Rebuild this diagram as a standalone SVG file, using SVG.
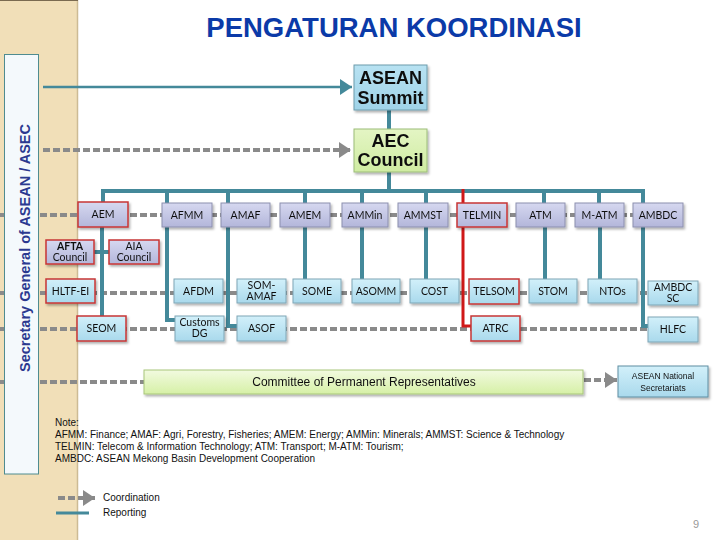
<svg xmlns="http://www.w3.org/2000/svg" width="720" height="540" viewBox="0 0 720 540">
<defs>
<style>
.lbl{font-family:Lato,"Liberation Sans",sans-serif;font-size:10.5px;fill:#111;text-anchor:middle}
.big{font-family:"Liberation Sans",Arial,sans-serif;font-size:18px;font-weight:bold;fill:#111;text-anchor:middle}
.note{font-family:"Liberation Sans",Arial,sans-serif;font-size:10px;fill:#111}
.rep{stroke:#44899a;stroke-width:4;fill:none}
.coord{stroke:#8a8a8a;stroke-width:4;stroke-dasharray:7 3;fill:none}
.b1{fill:url(#gLav);stroke:#8c8fae;stroke-width:1}
.b2{fill:url(#gBlue);stroke:#7fa6b6;stroke-width:1}
.red{stroke:#c83434;stroke-width:1.5}
</style>
<linearGradient id="gLav" x1="0" y1="0" x2="0" y2="1"><stop offset="0" stop-color="#d6d8f0"/><stop offset="1" stop-color="#b3b6da"/></linearGradient>
<linearGradient id="gBlue" x1="0" y1="0" x2="0" y2="1"><stop offset="0" stop-color="#d2f0fa"/><stop offset="1" stop-color="#a9d9ec"/></linearGradient>
<linearGradient id="gGreen" x1="0" y1="0" x2="0" y2="1"><stop offset="0" stop-color="#f2fae0"/><stop offset="1" stop-color="#d6f0a6"/></linearGradient>
<linearGradient id="gSum" x1="0" y1="0" x2="0" y2="1"><stop offset="0" stop-color="#b8e2f2"/><stop offset="1" stop-color="#9fd3e8"/></linearGradient>
<linearGradient id="gAec" x1="0" y1="0" x2="0" y2="1"><stop offset="0" stop-color="#e4f5c4"/><stop offset="1" stop-color="#cfeca2"/></linearGradient>
<filter id="sh" x="-20%" y="-20%" width="140%" height="150%"><feDropShadow dx="1.5" dy="2" stdDeviation="1.2" flood-color="#000" flood-opacity="0.3"/></filter>
<marker id="aRep" markerUnits="userSpaceOnUse" markerWidth="14" markerHeight="16" refX="12" refY="8" orient="auto"><polygon points="0,0 12,8 0,16" fill="#44899a"/></marker>
<marker id="aCoord" markerUnits="userSpaceOnUse" markerWidth="14" markerHeight="16" refX="12" refY="8" orient="auto"><polygon points="0,0 12,8 0,16" fill="#8a8a8a"/></marker>
</defs>

<rect width="720" height="540" fill="#ffffff"/>
<g id="side-band">
<rect x="0" y="0" width="78" height="540" fill="#f1dfb8"/>
<line x1="77.5" y1="0" x2="77.5" y2="540" stroke="#cdbb94" stroke-width="1.5"/>
<line x1="0" y1="0.5" x2="78" y2="0.5" stroke="#7a6a50" stroke-width="1"/>
</g>

<text x="394" y="37" font-family="'Liberation Sans',Arial,sans-serif" font-size="27.5" font-weight="bold" fill="#0b3aa8" text-anchor="middle">PENGATURAN KOORDINASI</text>

<g id="connectors">
<line class="coord" x1="0" y1="215" x2="633" y2="215"/>
<line class="coord" x1="0" y1="293" x2="648" y2="293"/>
<line class="coord" x1="0" y1="329" x2="648" y2="329"/>
<line class="coord" x1="0" y1="382" x2="144" y2="382"/>
<line class="coord" x1="43" y1="150" x2="351" y2="150" marker-end="url(#aCoord)"/>
<line class="coord" x1="584" y1="380" x2="617" y2="380" marker-end="url(#aCoord)"/>
<line x1="43" y1="87" x2="352" y2="87" stroke="#44899a" stroke-width="2.5" marker-end="url(#aRep)"/>
<line class="rep" x1="389" y1="110" x2="389" y2="129" stroke-width="5"/>
<line class="rep" x1="389" y1="172" x2="389" y2="191" stroke-width="5"/>
<line class="rep" x1="101" y1="191" x2="645" y2="191"/>
<path class="rep" d="M103 191V203 M167 191V203 M228 191V203 M305 191V203 M362 191V203 M426 191V203 M544 191V203 M599 191V203 M643 191V203"/>
<path class="rep" d="M102 227V316 M94 252H109"/>
<path class="rep" d="M167 227V320H175"/>
<path class="rep" d="M228 227V326H237"/>
<path class="rep" d="M305 227V279 M362 227V279 M426 227V279 M545 227V279 M600 227V279"/>
<path class="rep" d="M643 227V326H648"/>
<path d="M463 189V326H471" stroke="#d01818" stroke-width="3" fill="none"/>
</g>

<g id="sg-asec">
<rect x="4.5" y="54.5" width="34" height="419.5" fill="#f4f9fc" stroke="#4f8c90" stroke-width="1"/>
<text transform="translate(29.5,248) rotate(-90)" font-family="'Liberation Sans',Arial,sans-serif" font-size="15" font-weight="bold" fill="#2b3990" text-anchor="middle" textLength="248" lengthAdjust="spacingAndGlyphs">Secretary General of ASEAN / ASEC</text>
</g>

<g id="asean-summit" filter="url(#sh)"><rect x="354" y="65" width="73" height="45" fill="url(#gSum)" stroke="#6d9cac"/><text class="big" x="390.5" y="84">ASEAN</text><text class="big" x="390.5" y="104">Summit</text></g>
<g id="aec-council" filter="url(#sh)"><rect x="354" y="129" width="73" height="43" fill="url(#gAec)" stroke="#9cbc78"/><text class="big" x="390.5" y="147">AEC</text><text class="big" x="390.5" y="166">Council</text></g>

<g id="aem" filter="url(#sh)"><rect class="b1 red" x="78" y="202" width="50" height="25"/><text class="lbl" x="103" y="218">AEM</text></g>
<g id="afmm" filter="url(#sh)"><rect class="b1" x="162" y="203" width="50" height="24"/><text class="lbl" x="187" y="219">AFMM</text></g>
<g id="amaf" filter="url(#sh)"><rect class="b1" x="221" y="203" width="49" height="24"/><text class="lbl" x="245.5" y="219">AMAF</text></g>
<g id="amem" filter="url(#sh)"><rect class="b1" x="280" y="203" width="50" height="24"/><text class="lbl" x="305" y="219">AMEM</text></g>
<g id="ammin" filter="url(#sh)"><rect class="b1" x="342" y="203" width="46" height="24"/><text class="lbl" x="365" y="219">AMMin</text></g>
<g id="ammst" filter="url(#sh)"><rect class="b1" x="398" y="203" width="50" height="24"/><text class="lbl" x="423" y="219">AMMST</text></g>
<g id="telmin" filter="url(#sh)"><rect class="b1 red" x="457" y="203" width="50" height="24"/><text class="lbl" x="482" y="219">TELMIN</text></g>
<g id="atm" filter="url(#sh)"><rect class="b1" x="516" y="203" width="49" height="24"/><text class="lbl" x="540.5" y="219">ATM</text></g>
<g id="m-atm" filter="url(#sh)"><rect class="b1" x="575" y="203" width="49" height="24"/><text class="lbl" x="599.5" y="219">M-ATM</text></g>
<g id="ambdc" filter="url(#sh)"><rect class="b1" x="633" y="203" width="50" height="24"/><text class="lbl" x="658" y="219">AMBDC</text></g>

<g id="afta-council" filter="url(#sh)"><rect class="b1 red" x="46" y="240" width="48" height="24"/><text class="lbl" x="70" y="250" font-weight="bold">AFTA</text><text class="lbl" x="70" y="261">Council</text></g>
<g id="aia-council" filter="url(#sh)"><rect class="b1 red" x="109" y="240" width="50" height="24"/><text class="lbl" x="134" y="250">AIA</text><text class="lbl" x="134" y="261">Council</text></g>

<g id="hltf-ei" filter="url(#sh)"><rect class="b2 red" x="46" y="279" width="49" height="24"/><text class="lbl" x="70.5" y="295">HLTF-EI</text></g>
<g id="afdm" filter="url(#sh)"><rect class="b2" x="174" y="279" width="49" height="24"/><text class="lbl" x="198.5" y="295">AFDM</text></g>
<g id="som-amaf" filter="url(#sh)"><rect class="b2" x="237" y="279" width="49" height="24"/><text class="lbl" x="261.5" y="289">SOM-</text><text class="lbl" x="261.5" y="300">AMAF</text></g>
<g id="some" filter="url(#sh)"><rect class="b2" x="293" y="279" width="48" height="24"/><text class="lbl" x="317" y="295">SOME</text></g>
<g id="asomm" filter="url(#sh)"><rect class="b2" x="352" y="279" width="48" height="24"/><text class="lbl" x="376" y="295">ASOMM</text></g>
<g id="cost" filter="url(#sh)"><rect class="b2" x="410" y="279" width="49" height="24"/><text class="lbl" x="434.5" y="295">COST</text></g>
<g id="telsom" filter="url(#sh)"><rect class="b2 red" x="469" y="279" width="50" height="25"/><text class="lbl" x="494" y="295">TELSOM</text></g>
<g id="stom" filter="url(#sh)"><rect class="b2" x="529" y="279" width="48" height="24"/><text class="lbl" x="553" y="295">STOM</text></g>
<g id="ntos" filter="url(#sh)"><rect class="b2" x="588" y="279" width="49" height="24"/><text class="lbl" x="612.5" y="295">NTOs</text></g>
<g id="ambdc-sc" filter="url(#sh)"><rect class="b2" x="648" y="281" width="50" height="24"/><text class="lbl" x="673" y="291">AMBDC</text><text class="lbl" x="673" y="302">SC</text></g>

<g id="seom" filter="url(#sh)"><rect class="b2 red" x="77" y="316" width="49" height="25"/><text class="lbl" x="101.5" y="332">SEOM</text></g>
<g id="customs-dg" filter="url(#sh)"><rect class="b2" x="175" y="316" width="49" height="25"/><text class="lbl" x="199.5" y="326" font-family="'Liberation Serif',serif" font-size="9.5">Customs</text><text class="lbl" x="199.5" y="337">DG</text></g>
<g id="asof" filter="url(#sh)"><rect class="b2" x="237" y="316" width="49" height="25"/><text class="lbl" x="261.5" y="332">ASOF</text></g>
<g id="atrc" filter="url(#sh)"><rect class="b2 red" x="471" y="316" width="49" height="25"/><text class="lbl" x="495.5" y="332">ATRC</text></g>
<g id="hlfc" filter="url(#sh)"><rect class="b2" x="648" y="317" width="50" height="25"/><text class="lbl" x="673" y="333">HLFC</text></g>

<g id="cpr" filter="url(#sh)"><rect x="144" y="370" width="439" height="24" fill="url(#gGreen)" stroke="#a8c67a"/><text x="364" y="386" font-family="'Liberation Sans',Arial,sans-serif" font-size="12" fill="#111" text-anchor="middle">Committee of Permanent Representatives</text></g>
<g id="asean-ns" filter="url(#sh)"><rect x="618" y="366" width="90" height="31" fill="url(#gBlue)" stroke="#5f8ea2"/><text x="663" y="379" font-family="'Liberation Sans',Arial,sans-serif" font-size="8.5" fill="#111" text-anchor="middle">ASEAN National</text><text x="663" y="391" font-family="'Liberation Sans',Arial,sans-serif" font-size="8.5" fill="#111" text-anchor="middle">Secretariats</text></g>

<g id="note">
<text class="note" x="55" y="426">Note:</text>
<text class="note" x="55" y="438">AFMM: Finance; AMAF: Agri, Forestry, Fisheries; AMEM: Energy; AMMin: Minerals; AMMST: Science &amp; Technology</text>
<text class="note" x="55" y="450">TELMIN: Telecom &amp; Information Technology; ATM: Transport; M-ATM: Tourism;</text>
<text class="note" x="55" y="462">AMBDC: ASEAN Mekong Basin Development Cooperation</text>
</g>

<g id="legend">
<line class="coord" x1="58" y1="498" x2="95" y2="498" marker-end="url(#aCoord)"/>
<line x1="56" y1="513" x2="89" y2="513" stroke="#44899a" stroke-width="3"/>
<text class="note" x="103" y="501">Coordination</text>
<text class="note" x="103" y="516">Reporting</text>
</g>

<text x="693" y="528" font-family="'Liberation Sans',Arial,sans-serif" font-size="11" fill="#999">9</text>
</svg>
